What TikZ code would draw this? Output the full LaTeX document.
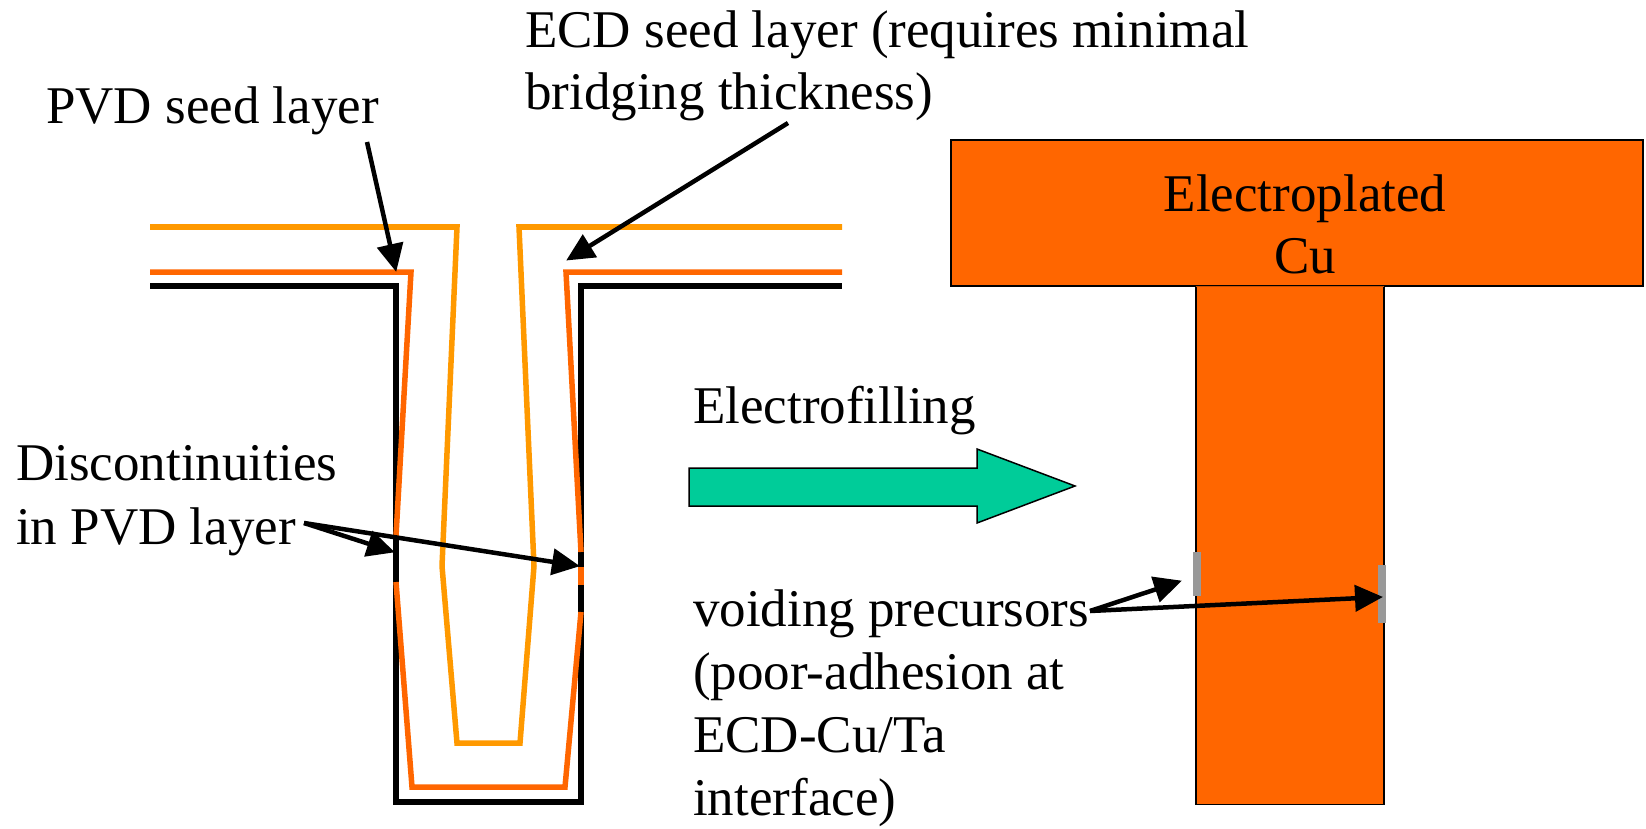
\documentclass[tikz,border=0pt]{standalone}
\usepackage{fontspec}
\setmainfont{Liberation Serif}
\usetikzlibrary{arrows.meta,
                positioning}
\definecolor{plated}{HTML}{FF6600}
\definecolor{ecdseed}{HTML}{FF9900}
\definecolor{fillarrow}{HTML}{00CC99}
\tikzset{layer/.style = {line width=5.5pt, line join=miter}}
\tikzset{metal/.style =
   {rectangle,
    fill=plated,
    inner sep=0pt}}
\tikzset{callout/.style =
   {inner sep=0pt,
    align=left,
    anchor=north west,
    font=\fontsize{53}{64}\selectfont}}
\tikzset{arrow/.style = {draw, line width=4.5pt, -{Triangle[length=28pt,width=26pt]}, shorten >=-1pt}}
\tikzset{void/.style = {fill=black!40, draw=none}}

\begin{document}
\begin{tikzpicture}[x=1pt, y=-1pt]

    \useasboundingbox (0,0) rectangle (1646,829);

    % trench layers
    \draw [layer, ecdseed] (150,227) -- (457,227) -- (442,566) -- (457,743)
     -- (520,743) -- (534,566) -- (519,227) -- (842,227);
    \draw [layer, black] (150,286) -- (396,286) -- (396,802) -- (581,802)
     -- (581,286) -- (842,286);
    \draw [layer, plated] (150,272) -- (411,272) -- (396,536);
    \draw [layer, plated] (396,582) -- (412,787) -- (565,787) -- (581,612);
    \draw [layer, plated] (581,552) -- (566,272) -- (842,272);
    \draw [layer, plated] (581,567) -- (581,585);

    % filled line
    \node [metal, draw, line width=2pt, minimum width=692pt, minimum height=146pt] (bar) at (1297,213) {};
    \node [metal, minimum width=188pt, minimum height=518pt, below=-1pt of bar, xshift=-7pt] (stem) {};
    \draw [line width=1.5pt] (stem.north west) -- (stem.south west) -- (stem.south east) -- (stem.north east);
    \draw [plated!80!black, line width=1pt] (stem.north west) -- (stem.north east);
    \node [inner sep=0pt, align=center, font=\fontsize{53}{62}\selectfont] (barlabel) at (1305,224) {Electroplated\\Cu};

    \draw [void] (1193,552) rectangle (1201,596);
    \draw [void] (1378,565) rectangle (1386,623);

    \draw [black, line width=1.5pt, fill=fillarrow]
     (689,468) -- (977,468) -- (977,449) -- (1075,486) -- (977,523) -- (977,506)
     -- (689,506) -- cycle;

    % labels
    \node [callout] (pvdlabel) at (46,87) {PVD seed layer};
    \node [callout, font=\fontsize{53}{62}\selectfont] (ecdlabel) at (525,11) {ECD seed layer (requires minimal\\bridging thickness)};
    \node [callout] (filllabel) at (693,386) {Electrofilling};
    \node [callout] (gaplabel) at (16,445) {Discontinuities\\in PVD layer};
    \node [callout, font=\fontsize{53}{63}\selectfont] (voidlabel) at (693,590)
     {voiding precursors\\(poor-adhesion at\\ECD-Cu/Ta\\interface)};

    % arrow ends
    \coordinate (pvdfrom) at (367,142);
    \coordinate (pvdtip) at (396,271);
    \coordinate (ecdfrom) at (788,123);
    \coordinate (ecdtip) at (567,260);
    \coordinate (gapfrom) at (304,523);
    \coordinate (gaptipa) at (394,552);
    \coordinate (gaptipb) at (579,566);
    \coordinate (voidfrom) at (1090,611);
    \coordinate (voidtipa) at (1181,581);
    \coordinate (voidtipb) at (1382,597);

    \draw [arrow] (pvdfrom) -- (pvdtip);
    \draw [arrow] (ecdfrom) -- (ecdtip);
    \draw [arrow] (gapfrom) -- (gaptipa);
    \draw [arrow] (gapfrom) -- (gaptipb);
    \draw [arrow] (voidfrom) -- (voidtipa);
    \draw [arrow] (voidfrom) -- (voidtipb);

\end{tikzpicture}
\end{document}
